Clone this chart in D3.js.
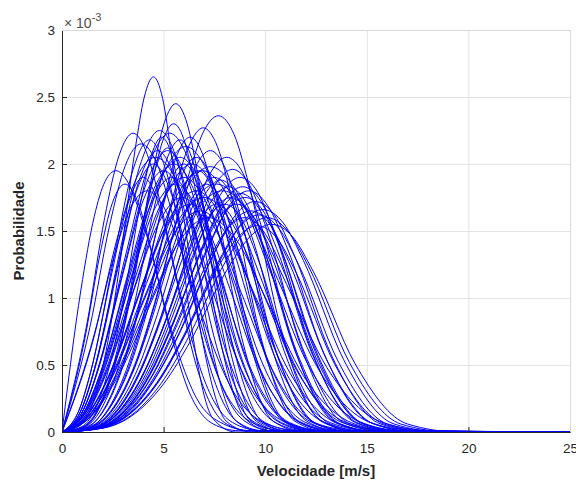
<!DOCTYPE html>
<html>
<head>
<meta charset="utf-8">
<script src="https://cdn.jsdelivr.net/npm/d3@7"></script>
<style>
  body { margin: 0; background: #fff; }
  svg { display: block; font-family: "Liberation Sans", Arial, Helvetica, sans-serif; }
</style>
</head>
<body>
<div id="chart"></div>
<script>
// velocity axis runs 0..25 m/s, probability shown in units of 1e-3
var velMax = 25;
var xTicks = [0, 5, 10, 15, 20, 25];
var yTicks = [0, 0.5, 1, 1.5, 2, 2.5, 3];

// each curve: [velocidade, probabilidade x1e-3] points
var curvesLeft = [
  [[0,0],[0.93,1.06],[1.59,1.61],[2.12,1.87],[2.65,1.95],[3.18,1.88],[3.71,1.69],[4.37,1.36],[5.3,0.8],[6.63,0.25],[7.95,0.06],[9.28,0.01]],
  [[0,0],[1.23,0.81],[2.1,1.6],[2.8,2.06],[3.5,2.23],[4.2,2.07],[4.9,1.67],[5.78,1.06],[7.0,0.39],[8.4,0.07],[9.8,0.01]],
  [[0,0],[1.37,0.78],[2.34,1.54],[3.12,1.99],[3.9,2.15],[4.68,2.0],[5.46,1.61],[6.44,1.02],[7.8,0.37],[9.36,0.07],[10.92,0.01]],
  [[0,0],[1.61,0.74],[2.76,1.47],[3.68,1.9],[4.6,2.05],[5.52,1.91],[6.44,1.54],[7.59,0.97],[9.2,0.35],[11.04,0.07],[12.88,0.01]],
  [[0,0],[1.09,0.67],[1.86,1.32],[2.48,1.71],[3.1,1.85],[3.72,1.72],[4.34,1.39],[5.12,0.88],[6.2,0.32],[7.44,0.06],[8.68,0.01]],
  [[0,0],[1.47,0.65],[2.52,1.29],[3.36,1.67],[4.2,1.8],[5.04,1.67],[5.88,1.35],[6.93,0.85],[8.4,0.31],[10.08,0.06],[11.76,0.01]]
];

var curvesMid = [
  [[0,0],[0.86,0.17],[1.51,0.51],[2.58,1.32],[3.44,1.93],[4.3,2.18],[5.16,1.93],[6.02,1.34],[7.1,0.58],[8.6,0.08],[9.89,0.01]],
  [[0,0],[0.96,0.17],[1.68,0.52],[2.88,1.37],[3.84,1.99],[4.8,2.25],[5.76,1.99],[6.72,1.38],[7.92,0.6],[9.6,0.09],[11.04,0.01]],
  [[0,0],[1.06,0.17],[1.86,0.52],[3.18,1.35],[4.24,1.98],[5.3,2.23],[6.36,1.98],[7.42,1.37],[8.75,0.59],[10.6,0.08],[12.19,0.01]],
  [[0,0],[1.04,0.16],[1.82,0.49],[3.12,1.27],[4.16,1.86],[5.2,2.1],[6.24,1.86],[7.28,1.29],[8.58,0.56],[10.4,0.08],[11.96,0.01]],
  [[0,0],[1.16,0.16],[2.03,0.48],[3.48,1.24],[4.64,1.82],[5.8,2.05],[6.96,1.82],[8.12,1.26],[9.57,0.54],[11.6,0.08],[13.34,0.01]],
  [[0,0],[1.22,0.16],[2.14,0.49],[3.66,1.29],[4.88,1.89],[6.1,2.13],[7.32,1.89],[8.54,1.31],[10.07,0.56],[12.2,0.08],[14.03,0.01]],
  [[0,0],[1.28,0.15],[2.24,0.46],[3.84,1.21],[5.12,1.77],[6.4,2.0],[7.68,1.77],[8.96,1.23],[10.56,0.53],[12.8,0.08],[14.72,0.01]],
  [[0,0],[1.2,0.15],[2.1,0.44],[3.6,1.15],[4.8,1.68],[6.0,1.9],[7.2,1.68],[8.4,1.16],[9.9,0.5],[12.0,0.07],[13.8,0.01]],
  [[0,0],[1.38,0.15],[2.42,0.45],[4.14,1.18],[5.52,1.73],[6.9,1.95],[8.28,1.73],[9.66,1.2],[11.39,0.52],[13.8,0.07],[15.87,0.01]],
  [[0,0],[1.46,0.15],[2.56,0.46],[4.38,1.2],[5.84,1.75],[7.3,1.98],[8.76,1.75],[10.22,1.21],[12.05,0.52],[14.6,0.08],[16.79,0.01]],
  [[0,0],[1.12,0.14],[1.96,0.43],[3.36,1.12],[4.48,1.64],[5.6,1.85],[6.72,1.64],[7.84,1.13],[9.24,0.49],[11.2,0.07],[12.88,0.01]],
  [[0,0],[1.32,0.14],[2.31,0.42],[3.96,1.09],[5.28,1.59],[6.6,1.8],[7.92,1.59],[9.24,1.1],[10.89,0.48],[13.2,0.07],[15.18,0.01]],
  [[0,0],[1.4,0.13],[2.45,0.41],[4.2,1.06],[5.6,1.55],[7.0,1.75],[8.4,1.55],[9.8,1.07],[11.55,0.46],[14.0,0.07],[16.1,0.01]],
  [[0,0],[1.52,0.14],[2.66,0.43],[4.56,1.12],[6.08,1.64],[7.6,1.85],[9.12,1.64],[10.64,1.13],[12.54,0.49],[15.2,0.07],[17.48,0.01]],
  [[0,0],[1.0,0.15],[1.75,0.45],[3.0,1.18],[4.0,1.73],[5.0,1.95],[6.0,1.73],[7.0,1.2],[8.25,0.52],[10.0,0.07],[11.5,0.01]],
  [[0,0],[0.9,0.15],[1.58,0.46],[2.7,1.21],[3.6,1.77],[4.5,2.0],[5.4,1.77],[6.3,1.23],[7.43,0.53],[9.0,0.08],[10.35,0.01]],
  [[0,0],[1.1,0.15],[1.93,0.46],[3.3,1.21],[4.4,1.77],[5.5,2.0],[6.6,1.77],[7.7,1.23],[9.08,0.53],[11.0,0.08],[12.65,0.01]],
  [[0,0],[1.26,0.13],[2.21,0.39],[3.78,1.03],[5.04,1.51],[6.3,1.7],[7.56,1.51],[8.82,1.04],[10.4,0.45],[12.6,0.06],[14.49,0.01]],
  [[0,0],[1.58,0.14],[2.77,0.42],[4.74,1.09],[6.32,1.59],[7.9,1.8],[9.48,1.59],[11.06,1.1],[13.04,0.48],[15.8,0.07],[18.17,0.01]],
  [[0,0],[0.8,0.15],[1.4,0.44],[2.4,1.15],[3.2,1.68],[4.0,1.9],[4.8,1.68],[5.6,1.16],[6.6,0.5],[8.0,0.07],[9.2,0.01]],
  [[0,0],[1.18,0.13],[2.07,0.41],[3.54,1.06],[4.72,1.55],[5.9,1.75],[7.08,1.55],[8.26,1.07],[9.74,0.46],[11.8,0.07],[13.57,0.01]],
  [[0,0],[1.36,0.13],[2.38,0.38],[4.08,1.0],[5.44,1.46],[6.8,1.65],[8.16,1.46],[9.52,1.01],[11.22,0.44],[13.6,0.06],[15.64,0]],
  [[0,0],[0.94,0.16],[1.65,0.49],[2.82,1.27],[3.76,1.86],[4.7,2.1],[5.64,1.86],[6.58,1.29],[7.76,0.56],[9.4,0.08],[10.81,0.01]],
  [[0,0],[1.44,0.12],[2.52,0.37],[4.32,0.97],[5.76,1.42],[7.2,1.6],[8.64,1.42],[10.08,0.98],[11.88,0.42],[14.4,0.06],[16.56,0]],
  [[0,0],[1.08,0.15],[1.89,0.44],[3.24,1.15],[4.32,1.68],[5.4,1.9],[6.48,1.68],[7.56,1.16],[8.91,0.5],[10.8,0.07],[12.42,0.01]]
];

var curvesNarrow = [
  [[0,0],[0.9,0.05],[1.58,0.24],[2.25,0.67],[2.7,1.1],[3.6,2.11],[4.05,2.5],[4.5,2.65],[4.95,2.49],[5.4,2.05],[6.3,0.86],[7.43,0.1],[8.55,0]],
  [[0,0],[1.12,0.04],[1.96,0.22],[2.8,0.62],[3.36,1.02],[4.48,1.95],[5.04,2.31],[5.6,2.45],[6.16,2.3],[6.72,1.89],[7.84,0.8],[9.24,0.09],[10.64,0]],
  [[0,0],[1.54,0.04],[2.7,0.21],[3.85,0.6],[4.62,0.98],[6.16,1.88],[6.93,2.23],[7.7,2.36],[8.47,2.22],[9.24,1.82],[10.78,0.77],[12.71,0.09],[14.63,0]],
  [[0,0],[1.1,0.04],[1.93,0.21],[2.75,0.58],[3.3,0.95],[4.4,1.83],[4.95,2.17],[5.5,2.3],[6.05,2.16],[6.6,1.78],[7.7,0.75],[9.08,0.09],[10.45,0]],
  [[0,0],[1.39,0.04],[2.43,0.2],[3.48,0.57],[4.17,0.94],[5.56,1.81],[6.26,2.14],[6.95,2.27],[7.65,2.13],[8.34,1.75],[9.73,0.74],[11.47,0.08],[13.21,0]],
  [[0,0],[1.62,0.03],[2.84,0.18],[4.05,0.52],[4.86,0.85],[6.48,1.63],[7.29,1.93],[8.1,2.05],[8.91,1.93],[9.72,1.58],[11.34,0.67],[13.37,0.08],[15.39,0]],
  [[0,0],[1.26,0.04],[2.21,0.2],[3.15,0.56],[3.78,0.91],[5.04,1.75],[5.67,2.07],[6.3,2.2],[6.93,2.07],[7.56,1.7],[8.82,0.72],[10.4,0.08],[11.97,0]],
  [[0,0],[1.46,0.04],[2.56,0.19],[3.65,0.53],[4.38,0.87],[5.84,1.67],[6.57,1.98],[7.3,2.1],[8.03,1.97],[8.76,1.62],[10.22,0.68],[12.05,0.08],[13.87,0]],
  [[0,0],[0.98,0.04],[1.72,0.2],[2.45,0.56],[2.94,0.91],[3.92,1.75],[4.41,2.07],[4.9,2.2],[5.39,2.07],[5.88,1.7],[6.86,0.72],[8.09,0.08],[9.31,0]],
  [[0,0],[1.68,0.03],[2.94,0.18],[4.2,0.5],[5.04,0.81],[6.72,1.56],[7.56,1.85],[8.4,1.96],[9.24,1.84],[10.08,1.51],[11.76,0.64],[13.86,0.07],[15.96,0]],
  [[0,0],[1.75,0.03],[3.06,0.17],[4.38,0.48],[5.25,0.79],[7.0,1.51],[7.88,1.79],[8.75,1.9],[9.63,1.79],[10.5,1.47],[12.25,0.62],[14.44,0.07],[16.63,0]],
  [[0,0],[1.64,0.03],[2.87,0.16],[4.1,0.46],[4.92,0.76],[6.56,1.46],[7.38,1.73],[8.2,1.83],[9.02,1.72],[9.84,1.41],[11.48,0.6],[13.53,0.07],[15.58,0]],
  [[0,0],[1.56,0.03],[2.73,0.17],[3.9,0.48],[4.68,0.78],[6.24,1.5],[7.02,1.77],[7.8,1.88],[8.58,1.77],[9.36,1.45],[10.92,0.61],[12.87,0.07],[14.82,0]],
  [[0,0],[1.6,0.03],[2.8,0.15],[4.0,0.43],[4.8,0.71],[6.4,1.35],[7.2,1.6],[8.0,1.7],[8.8,1.6],[9.6,1.31],[11.2,0.55],[13.2,0.06],[15.2,0]],
  [[0,0],[1.72,0.03],[3.01,0.15],[4.3,0.43],[5.16,0.71],[6.88,1.35],[7.74,1.6],[8.6,1.7],[9.46,1.6],[10.32,1.31],[12.04,0.55],[14.19,0.06],[16.34,0]],
  [[0,0],[1.8,0.03],[3.15,0.16],[4.5,0.44],[5.4,0.73],[7.2,1.39],[8.1,1.65],[9.0,1.75],[9.9,1.65],[10.8,1.35],[12.6,0.57],[14.85,0.06],[17.1,0]],
  [[0,0],[1.86,0.03],[3.26,0.15],[4.65,0.42],[5.58,0.68],[7.44,1.32],[8.37,1.56],[9.3,1.65],[10.23,1.55],[11.16,1.27],[13.02,0.54],[15.35,0.06],[17.67,0]],
  [[0,0],[1.92,0.03],[3.36,0.14],[4.8,0.39],[5.76,0.64],[7.68,1.23],[8.64,1.45],[9.6,1.54],[10.56,1.45],[11.52,1.19],[13.44,0.5],[15.84,0.06],[18.24,0]],
  [[0,0],[1.98,0.03],[3.47,0.15],[4.95,0.42],[5.94,0.69],[7.92,1.32],[8.91,1.57],[9.9,1.66],[10.89,1.56],[11.88,1.28],[13.86,0.54],[16.34,0.06],[18.81,0]],
  [[0,0],[1.9,0.03],[3.33,0.15],[4.75,0.44],[5.7,0.71],[7.6,1.37],[8.55,1.62],[9.5,1.72],[10.45,1.62],[11.4,1.33],[13.3,0.56],[15.68,0.06],[18.05,0]],
  [[0,0],[2.02,0.03],[3.54,0.14],[5.05,0.4],[6.06,0.66],[8.08,1.28],[9.09,1.51],[10.1,1.6],[11.11,1.5],[12.12,1.24],[14.14,0.52],[16.67,0.06],[19.19,0]],
  [[0,0],[1.84,0.03],[3.22,0.16],[4.6,0.46],[5.52,0.75],[7.36,1.43],[8.28,1.7],[9.2,1.8],[10.12,1.69],[11.04,1.39],[12.88,0.59],[15.18,0.07],[17.48,0]],
  [[0,0],[1.2,0.03],[2.1,0.18],[3.0,0.51],[3.6,0.83],[4.8,1.59],[5.4,1.89],[6.0,2.0],[6.6,1.88],[7.2,1.54],[8.4,0.65],[9.9,0.07],[11.4,0]],
  [[0,0],[1.34,0.03],[2.35,0.18],[3.35,0.49],[4.02,0.81],[5.36,1.55],[6.03,1.84],[6.7,1.95],[7.37,1.83],[8.04,1.51],[9.38,0.64],[11.06,0.07],[12.73,0]],
  [[0,0],[1.5,0.03],[2.63,0.17],[3.75,0.48],[4.5,0.79],[6.0,1.51],[6.75,1.79],[7.5,1.9],[8.25,1.79],[9.0,1.47],[10.5,0.62],[12.38,0.07],[14.25,0]],
  [[0,0],[1.78,0.03],[3.12,0.16],[4.45,0.46],[5.34,0.76],[7.12,1.46],[8.01,1.73],[8.9,1.83],[9.79,1.72],[10.68,1.41],[12.46,0.6],[14.69,0.07],[16.91,0]],
  [[0,0],[1.94,0.03],[3.4,0.15],[4.85,0.41],[5.82,0.67],[7.76,1.29],[8.73,1.53],[9.7,1.62],[10.67,1.52],[11.64,1.25],[13.58,0.53],[16.01,0.06],[18.43,0]],
  [[0,0],[1.66,0.03],[2.91,0.16],[4.15,0.44],[4.98,0.73],[6.64,1.39],[7.47,1.65],[8.3,1.75],[9.13,1.65],[9.96,1.35],[11.62,0.57],[13.7,0.06],[15.77,0]],
  [[0,0],[1.42,0.03],[2.49,0.17],[3.55,0.47],[4.26,0.77],[5.68,1.47],[6.39,1.74],[7.1,1.85],[7.81,1.74],[8.52,1.43],[9.94,0.6],[11.72,0.07],[13.49,0]],
  [[0,0],[1.16,0.04],[2.03,0.2],[2.9,0.55],[3.48,0.9],[4.64,1.74],[5.22,2.06],[5.8,2.18],[6.38,2.05],[6.96,1.68],[8.12,0.71],[9.57,0.08],[11.02,0]],
  [[0,0],[1.32,0.03],[2.31,0.18],[3.3,0.52],[3.96,0.85],[5.28,1.63],[5.94,1.93],[6.6,2.05],[7.26,1.93],[7.92,1.58],[9.24,0.67],[10.89,0.08],[12.54,0]],
  [[0,0],[1.8,0.03],[3.15,0.14],[4.5,0.4],[5.4,0.66],[7.2,1.28],[8.1,1.51],[9.0,1.6],[9.9,1.5],[10.8,1.24],[12.6,0.52],[14.85,0.06],[17.1,0]],
  [[0,0],[2.06,0.03],[3.61,0.14],[5.15,0.39],[6.18,0.64],[8.24,1.24],[9.27,1.46],[10.3,1.55],[11.33,1.46],[12.36,1.2],[14.42,0.51],[17.0,0.06],[19.57,0]],
  [[0,0],[1.52,0.03],[2.66,0.15],[3.8,0.43],[4.56,0.71],[6.08,1.35],[6.84,1.6],[7.6,1.7],[8.36,1.6],[9.12,1.31],[10.64,0.55],[12.54,0.06],[14.44,0]],
  [[0,0],[1.76,0.03],[3.08,0.16],[4.4,0.45],[5.28,0.74],[7.04,1.42],[7.92,1.68],[8.8,1.78],[9.68,1.67],[10.56,1.37],[12.32,0.58],[14.52,0.07],[16.72,0]],
  [[0,0],[1.04,0.04],[1.82,0.19],[2.6,0.54],[3.12,0.88],[4.16,1.69],[4.68,2.0],[5.2,2.12],[5.72,1.99],[6.24,1.64],[7.28,0.69],[8.58,0.08],[9.88,0]]
];

document.addEventListener('DOMContentLoaded', function() {
  drawChart();
});

function drawChart() {
  var W = 576, H = 483;
  var margin = {top: 30, right: 6, bottom: 51, left: 62},
      width = W - margin.left - margin.right,
      height = H - margin.top - margin.bottom;

  var svg = d3.select("#chart")
    .append("svg")
      .attr("width", W)
      .attr("height", H);

  var g = svg.append("g")
      .attr("transform", "translate(" + margin.left + "," + margin.top + ")");

  var x = d3.scaleLinear().domain([0, velMax]).range([0, width]);
  var y = d3.scaleLinear().domain([0, 3]).range([height, 0]);

  // grid
  g.append("g").selectAll("line.gx")
    .data(xTicks.slice(1))
    .enter().append("line")
      .attr("x1", d => x(d) + 0.5).attr("x2", d => x(d) + 0.5)
      .attr("y1", 0).attr("y2", height)
      .attr("stroke", "#e3e3e3").attr("stroke-width", 1);
  g.append("g").selectAll("line.gy")
    .data(yTicks.slice(1))
    .enter().append("line")
      .attr("y1", d => Math.round(y(d)) + 0.5).attr("y2", d => Math.round(y(d)) + 0.5)
      .attr("x1", 0).attr("x2", width)
      .attr("stroke", "#e3e3e3").attr("stroke-width", 1);

  g.append("clipPath").attr("id", "clip")
    .append("rect").attr("x", 0).attr("y", -2).attr("width", width).attr("height", height + 2);

  var line = d3.line()
    .x(d => x(d[0]))
    .y(d => y(d[1]))
    .curve(d3.curveMonotoneX);

  var all = curvesLeft.concat(curvesMid, curvesNarrow).map(c => c.concat([[velMax, 0]]));

  g.append("g").attr("clip-path", "url(#clip)")
    .selectAll("path")
    .data(all)
    .enter().append("path")
      .attr("d", line)
      .attr("fill", "none")
      .attr("stroke", "#0000ff")
      .attr("stroke-width", 1);

  // axes
  var xAxis = g.append("g")
    .attr("transform", "translate(0," + height + ")")
    .call(d3.axisBottom(x).tickValues(xTicks).tickFormat(d => d).tickSize(-5).tickPadding(11));
  var yAxis = g.append("g")
    .call(d3.axisLeft(y).tickValues(yTicks).tickFormat(d => d).tickSize(-5).tickPadding(7));

  [xAxis, yAxis].forEach(function(a) {
    a.select(".domain").attr("stroke", "#262626");
    a.selectAll(".tick line").attr("stroke", "#262626");
    a.selectAll(".tick text").attr("fill", "#262626").style("font-size", "13.5px")
      .style("font-family", "'Liberation Sans', Arial, sans-serif");
  });

  // top / right box
  g.append("line").attr("x1", 0).attr("x2", width).attr("y1", 0.5).attr("y2", 0.5)
    .attr("stroke", "#d9d9d9");
  g.append("line").attr("x1", width + 0.5).attr("x2", width + 0.5).attr("y1", 0).attr("y2", height)
    .attr("stroke", "#d9d9d9");

  // exponent label
  var ex = svg.append("text")
    .attr("x", margin.left + 2)
    .attr("y", margin.top - 2)
    .attr("fill", "#4d4d4d")
    .style("font-size", "14px");
  ex.append("tspan").text("\u00d7 10");
  ex.append("tspan").attr("dy", -7).style("font-size", "11px").text("-3");

  // axis labels
  svg.append("text")
    .attr("x", margin.left + width / 2)
    .attr("y", 476)
    .attr("text-anchor", "middle")
    .attr("fill", "#262626")
    .style("font-size", "15px")
    .style("font-weight", "bold")
    .text("Velocidade [m/s]");

  svg.append("text")
    .attr("transform", "translate(24," + (margin.top + height / 2) + ") rotate(-90)")
    .attr("text-anchor", "middle")
    .attr("fill", "#262626")
    .style("font-size", "15px")
    .style("font-weight", "bold")
    .text("Probabilidade");
}
</script>
</body>
</html>
